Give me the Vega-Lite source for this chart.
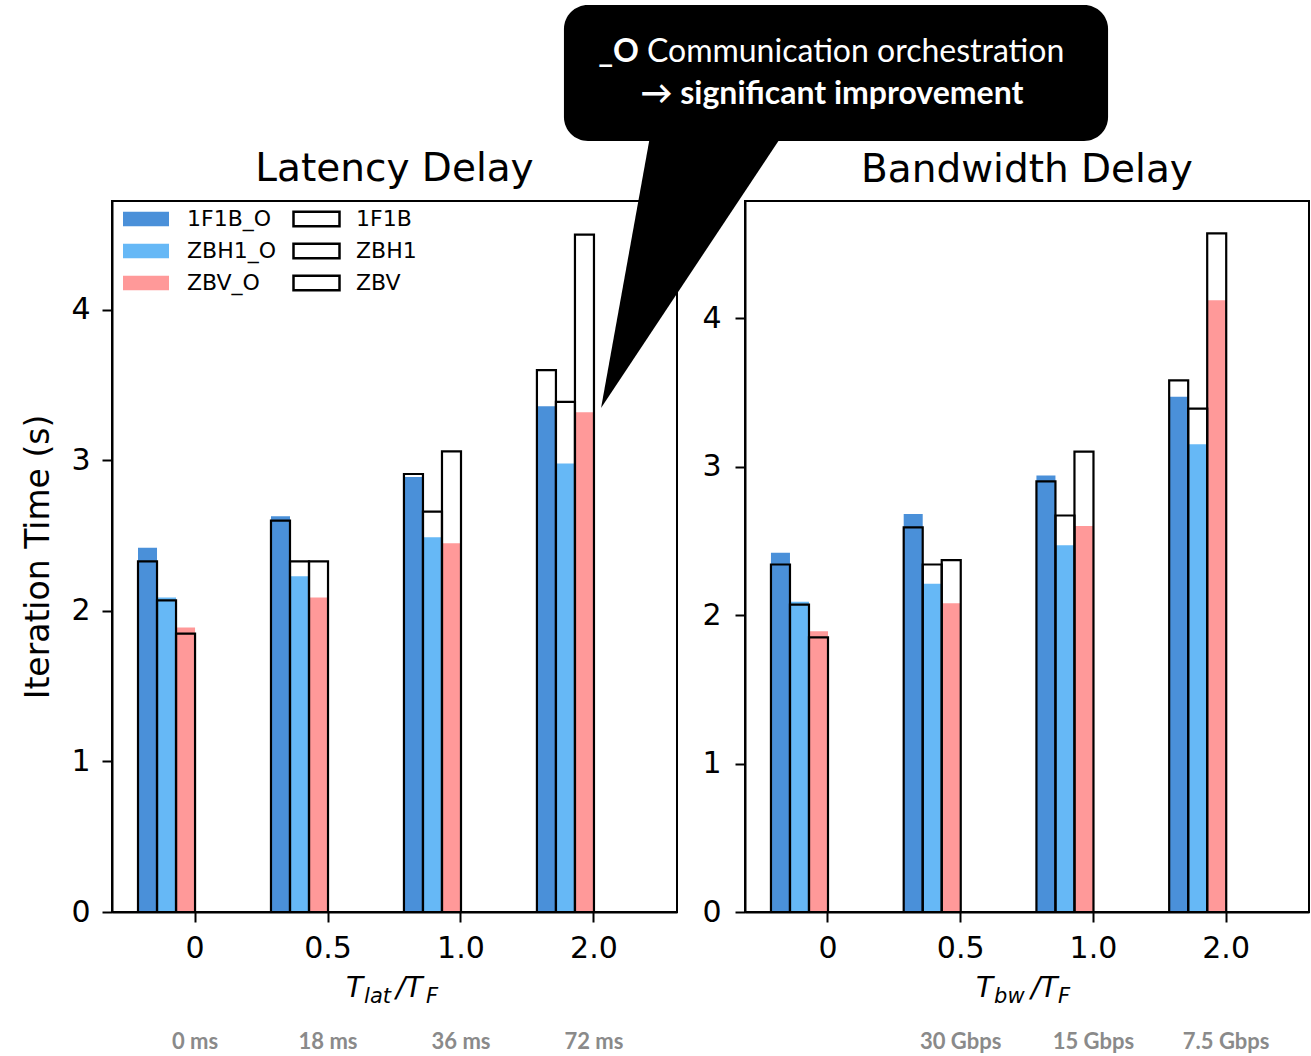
{
  "$schema": "https://vega.github.io/schema/vega-lite/v6.json",
  "background": "white",
  "padding": {"left": 21, "top": 3, "right": 0, "bottom": 0},
  "bounds": "flush",
  "spacing": 68,
  "datasets": {
    "times": [
      {"panel": "latency", "ratio": "0", "method": "1F1B", "variant": "O", "time": 2.42},
      {"panel": "latency", "ratio": "0", "method": "1F1B", "variant": "base", "time": 2.33},
      {"panel": "latency", "ratio": "0", "method": "ZBH1", "variant": "O", "time": 2.09},
      {"panel": "latency", "ratio": "0", "method": "ZBH1", "variant": "base", "time": 2.07},
      {"panel": "latency", "ratio": "0", "method": "ZBV", "variant": "O", "time": 1.89},
      {"panel": "latency", "ratio": "0", "method": "ZBV", "variant": "base", "time": 1.85},
      {"panel": "latency", "ratio": "0.5", "method": "1F1B", "variant": "O", "time": 2.63},
      {"panel": "latency", "ratio": "0.5", "method": "1F1B", "variant": "base", "time": 2.6},
      {"panel": "latency", "ratio": "0.5", "method": "ZBH1", "variant": "O", "time": 2.23},
      {"panel": "latency", "ratio": "0.5", "method": "ZBH1", "variant": "base", "time": 2.33},
      {"panel": "latency", "ratio": "0.5", "method": "ZBV", "variant": "O", "time": 2.09},
      {"panel": "latency", "ratio": "0.5", "method": "ZBV", "variant": "base", "time": 2.33},
      {"panel": "latency", "ratio": "1.0", "method": "1F1B", "variant": "O", "time": 2.89},
      {"panel": "latency", "ratio": "1.0", "method": "1F1B", "variant": "base", "time": 2.91},
      {"panel": "latency", "ratio": "1.0", "method": "ZBH1", "variant": "O", "time": 2.49},
      {"panel": "latency", "ratio": "1.0", "method": "ZBH1", "variant": "base", "time": 2.66},
      {"panel": "latency", "ratio": "1.0", "method": "ZBV", "variant": "O", "time": 2.45},
      {"panel": "latency", "ratio": "1.0", "method": "ZBV", "variant": "base", "time": 3.06},
      {"panel": "latency", "ratio": "2.0", "method": "1F1B", "variant": "O", "time": 3.36},
      {"panel": "latency", "ratio": "2.0", "method": "1F1B", "variant": "base", "time": 3.6},
      {"panel": "latency", "ratio": "2.0", "method": "ZBH1", "variant": "O", "time": 2.98},
      {"panel": "latency", "ratio": "2.0", "method": "ZBH1", "variant": "base", "time": 3.39},
      {"panel": "latency", "ratio": "2.0", "method": "ZBV", "variant": "O", "time": 3.32},
      {"panel": "latency", "ratio": "2.0", "method": "ZBV", "variant": "base", "time": 4.5},
      {"panel": "bandwidth", "ratio": "0", "method": "1F1B", "variant": "O", "time": 2.42},
      {"panel": "bandwidth", "ratio": "0", "method": "1F1B", "variant": "base", "time": 2.34},
      {"panel": "bandwidth", "ratio": "0", "method": "ZBH1", "variant": "O", "time": 2.09},
      {"panel": "bandwidth", "ratio": "0", "method": "ZBH1", "variant": "base", "time": 2.07},
      {"panel": "bandwidth", "ratio": "0", "method": "ZBV", "variant": "O", "time": 1.89},
      {"panel": "bandwidth", "ratio": "0", "method": "ZBV", "variant": "base", "time": 1.85},
      {"panel": "bandwidth", "ratio": "0.5", "method": "1F1B", "variant": "O", "time": 2.68},
      {"panel": "bandwidth", "ratio": "0.5", "method": "1F1B", "variant": "base", "time": 2.59},
      {"panel": "bandwidth", "ratio": "0.5", "method": "ZBH1", "variant": "O", "time": 2.21},
      {"panel": "bandwidth", "ratio": "0.5", "method": "ZBH1", "variant": "base", "time": 2.34},
      {"panel": "bandwidth", "ratio": "0.5", "method": "ZBV", "variant": "O", "time": 2.08},
      {"panel": "bandwidth", "ratio": "0.5", "method": "ZBV", "variant": "base", "time": 2.37},
      {"panel": "bandwidth", "ratio": "1.0", "method": "1F1B", "variant": "O", "time": 2.94},
      {"panel": "bandwidth", "ratio": "1.0", "method": "1F1B", "variant": "base", "time": 2.9},
      {"panel": "bandwidth", "ratio": "1.0", "method": "ZBH1", "variant": "O", "time": 2.47},
      {"panel": "bandwidth", "ratio": "1.0", "method": "ZBH1", "variant": "base", "time": 2.67},
      {"panel": "bandwidth", "ratio": "1.0", "method": "ZBV", "variant": "O", "time": 2.6},
      {"panel": "bandwidth", "ratio": "1.0", "method": "ZBV", "variant": "base", "time": 3.1},
      {"panel": "bandwidth", "ratio": "2.0", "method": "1F1B", "variant": "O", "time": 3.47},
      {"panel": "bandwidth", "ratio": "2.0", "method": "1F1B", "variant": "base", "time": 3.58},
      {"panel": "bandwidth", "ratio": "2.0", "method": "ZBH1", "variant": "O", "time": 3.15},
      {"panel": "bandwidth", "ratio": "2.0", "method": "ZBH1", "variant": "base", "time": 3.39},
      {"panel": "bandwidth", "ratio": "2.0", "method": "ZBV", "variant": "O", "time": 4.12},
      {"panel": "bandwidth", "ratio": "2.0", "method": "ZBV", "variant": "base", "time": 4.57}
    ],
    "sub": [
      {"panel": "latency", "ratio": "0", "label": "0 ms"},
      {"panel": "latency", "ratio": "0.5", "label": "18 ms"},
      {"panel": "latency", "ratio": "1.0", "label": "36 ms"},
      {"panel": "latency", "ratio": "2.0", "label": "72 ms"},
      {"panel": "bandwidth", "ratio": "0.5", "label": "30 Gbps"},
      {"panel": "bandwidth", "ratio": "1.0", "label": "15 Gbps"},
      {"panel": "bandwidth", "ratio": "2.0", "label": "7.5 Gbps"}
    ]
  },
  "config": {
    "font": "DejaVu Sans",
    "view": {"stroke": "black", "strokeWidth": 2},
    "title": {"fontSize": 39, "fontWeight": "normal", "font": "DejaVu Sans", "color": "black"},
    "axis": {
      "labelFontSize": 30, "labelColor": "black", "labelFont": "DejaVu Sans",
      "tickSize": 10, "tickWidth": 2, "tickColor": "black",
      "domainColor": "black", "domainWidth": 2, "grid": false,
      "titleFontSize": 33, "titleFontWeight": "normal", "titleFont": "DejaVu Sans", "titleColor": "black"
    },
    "legend": {
      "orient": "none", "title": null, "labelFontSize": 22, "labelFont": "DejaVu Sans", "labelColor": "black",
      "symbolType": "M-1,-0.32L1,-0.32L1,0.32L-1,0.32Z", "symbolSize": 2116,
      "clipHeight": 28, "rowPadding": 4, "labelOffset": 17, "legendY": 4
    }
  },
  "hconcat": [
    {
      "width": 565,
      "height": 711,
      "title": {"text": "Latency Delay", "offset": -184},
      "resolve": {"scale": {"x": "independent", "y": "independent"}},
      "layer": [
        {
          "layer": [
            {
              "data": {"name": "times"},
              "transform": [{"filter": "datum.panel === 'latency' && datum.variant === 'O'"}],
              "mark": {"type": "bar", "strokeWidth": 0},
              "encoding": {
                "x": {"field": "ratio", "type": "nominal", "sort": ["0", "0.5", "1.0", "2.0"],
                  "scale": {"paddingInner": 0.571, "paddingOuter": 0.41, "align": 0.2385},
                  "axis": {"title": null, "bandPosition": 1, "labelOffset": 28.5, "labelAngle": 0, "labelPadding": 11}},
                "xOffset": {"field": "method", "type": "nominal", "sort": ["1F1B", "ZBH1", "ZBV"], "scale": {"paddingInner": 0, "paddingOuter": 0}},
                "y": {"field": "time", "type": "quantitative", "scale": {"domain": [0, 4.724], "nice": false, "zero": false},
                  "axis": {"values": [0, 1, 2, 3, 4], "format": "d", "title": "Iteration Time (s)", "labelPadding": 12, "titlePadding": 15}},
                "color": {"field": "method", "type": "nominal",
                  "scale": {"domain": ["1F1B", "ZBH1", "ZBV"], "range": ["#4a90d9", "#66b8f6", "#ff9999"]},
                  "legend": {"legendX": 10, "labelExpr": "datum.label + '_O'"}}
              }
            },
            {
              "data": {"name": "times"},
              "transform": [{"filter": "datum.panel === 'latency' && datum.variant === 'base'"}],
              "mark": {"type": "bar", "fill": "transparent", "strokeWidth": 2.2},
              "encoding": {
                "x": {"field": "ratio", "type": "nominal", "sort": ["0", "0.5", "1.0", "2.0"]},
                "xOffset": {"field": "method", "type": "nominal", "sort": ["1F1B", "ZBH1", "ZBV"]},
                "y": {"field": "time", "type": "quantitative"},
                "stroke": {"field": "method", "type": "nominal", "scale": {"range": ["black", "black", "black"]},
                  "legend": {"legendX": 180, "labelOffset": 15, "symbolFillColor": "white", "symbolStrokeWidth": 2.5, "symbolStrokeColor": "black"}}
              }
            },
            {
              "data": {"name": "sub"},
              "transform": [{"filter": "datum.panel === 'latency'"}],
              "mark": {"type": "text", "font": "Lato", "fontWeight": "bold", "fontSize": 22, "color": "#8a8a8a", "baseline": "middle"},
              "encoding": {
                "x": {"field": "ratio", "type": "nominal", "sort": ["0", "0.5", "1.0", "2.0"], "bandPosition": 1},
                "y": {"datum": -0.864, "type": "quantitative"},
                "text": {"field": "label"}
              }
            }
          ]
        },
        {
          "data": {"values": [{}]},
          "layer": [
            {
              "mark": {"type": "rect", "color": "black", "cornerRadius": 24},
              "encoding": {
                "x": {"datum": 2.774, "type": "quantitative", "scale": {"domain": [-0.624, 3.624], "nice": false, "zero": false}, "axis": null},
                "x2": {"datum": 6.865},
                "y": {"datum": 6.027, "type": "quantitative", "scale": {"domain": [0, 4.724], "nice": false, "zero": false}, "axis": null},
                "y2": {"datum": 5.123}
              }
            },
            {
              "mark": {"type": "point", "shape": "M0,0L5.1,-28.3L18.8,-28.3Z", "size": 400, "filled": true, "color": "black", "opacity": 1, "strokeWidth": 0},
              "encoding": {
                "x": {"datum": 3.053, "type": "quantitative"},
                "y": {"datum": 3.349, "type": "quantitative"}
              }
            },
            {
              "mark": {"type": "text", "text": "_O", "font": "Lato", "fontWeight": "bold", "fontSize": 32, "color": "white", "align": "right", "baseline": "middle"},
              "encoding": {"x": {"datum": 3.338, "type": "quantitative"}, "y": {"datum": 5.714, "type": "quantitative"}}
            },
            {
              "mark": {"type": "text", "text": "Communication orchestration", "font": "Lato", "fontSize": 32, "color": "white", "align": "left", "baseline": "middle"},
              "encoding": {"x": {"datum": 3.398, "type": "quantitative"}, "y": {"datum": 5.714, "type": "quantitative"}}
            },
            {
              "mark": {"type": "text", "text": "→ significant improvement", "font": "Lato", "fontWeight": "bold", "fontSize": 32, "color": "white", "align": "center", "baseline": "middle"},
              "encoding": {"x": {"datum": 4.789, "type": "quantitative"}, "y": {"datum": 5.435, "type": "quantitative"}}
            },
            {
              "mark": {"type": "text", "text": "T", "fontStyle": "italic", "fontSize": 28, "color": "black", "align": "left", "baseline": "alphabetic"},
              "encoding": {"x": {"datum": 1.135, "type": "quantitative"}, "y": {"datum": -0.565, "type": "quantitative"}}
            },
            {
              "mark": {"type": "text", "text": "lat", "fontStyle": "italic", "fontSize": 21, "color": "black", "align": "left", "baseline": "alphabetic"},
              "encoding": {"x": {"datum": 1.271, "type": "quantitative"}, "y": {"datum": -0.605, "type": "quantitative"}}
            },
            {
              "mark": {"type": "text", "text": "/T", "fontStyle": "italic", "fontSize": 28, "color": "black", "align": "left", "baseline": "alphabetic"},
              "encoding": {"x": {"datum": 1.511, "type": "quantitative"}, "y": {"datum": -0.565, "type": "quantitative"}}
            },
            {
              "mark": {"type": "text", "text": "F", "fontStyle": "italic", "fontSize": 21, "color": "black", "align": "left", "baseline": "alphabetic"},
              "encoding": {"x": {"datum": 1.737, "type": "quantitative"}, "y": {"datum": -0.605, "type": "quantitative"}}
            }
          ]
        }
      ]
    },
    {
      "width": 564,
      "height": 711,
      "title": {"text": "Bandwidth Delay", "offset": 11},
      "resolve": {"scale": {"x": "independent", "y": "independent"}},
      "layer": [
        {
          "layer": [
            {
              "data": {"name": "times"},
              "transform": [{"filter": "datum.panel === 'bandwidth' && datum.variant === 'O'"}],
              "mark": {"type": "bar", "strokeWidth": 0},
              "encoding": {
                "x": {"field": "ratio", "type": "nominal", "sort": ["0", "0.5", "1.0", "2.0"],
                  "scale": {"paddingInner": 0.571, "paddingOuter": 0.41, "align": 0.2385},
                  "axis": {"title": null, "bandPosition": 1, "labelOffset": 28.5, "labelAngle": 0, "labelPadding": 11}},
                "xOffset": {"field": "method", "type": "nominal", "sort": ["1F1B", "ZBH1", "ZBV"], "scale": {"paddingInner": 0, "paddingOuter": 0}},
                "y": {"field": "time", "type": "quantitative", "scale": {"domain": [0, 4.788], "nice": false, "zero": false},
                  "axis": {"values": [0, 1, 2, 3, 4], "format": "d", "title": null, "labelPadding": 14}},
                "color": {"field": "method", "type": "nominal",
                  "scale": {"domain": ["1F1B", "ZBH1", "ZBV"], "range": ["#4a90d9", "#66b8f6", "#ff9999"]},
                  "legend": null}
              }
            },
            {
              "data": {"name": "times"},
              "transform": [{"filter": "datum.panel === 'bandwidth' && datum.variant === 'base'"}],
              "mark": {"type": "bar", "fill": "transparent", "strokeWidth": 2.2},
              "encoding": {
                "x": {"field": "ratio", "type": "nominal", "sort": ["0", "0.5", "1.0", "2.0"]},
                "xOffset": {"field": "method", "type": "nominal", "sort": ["1F1B", "ZBH1", "ZBV"]},
                "y": {"field": "time", "type": "quantitative"},
                "stroke": {"field": "method", "type": "nominal", "scale": {"range": ["black", "black", "black"]}, "legend": null}
              }
            },
            {
              "data": {"name": "sub"},
              "transform": [{"filter": "datum.panel === 'bandwidth'"}],
              "mark": {"type": "text", "font": "Lato", "fontWeight": "bold", "fontSize": 22, "color": "#8a8a8a", "baseline": "middle"},
              "encoding": {
                "x": {"field": "ratio", "type": "nominal", "sort": ["0", "0.5", "1.0", "2.0"], "bandPosition": 1},
                "y": {"datum": -0.875, "type": "quantitative"},
                "text": {"field": "label"}
              }
            }
          ]
        },
        {
          "data": {"values": [{}]},
          "layer": [
            {
              "mark": {"type": "text", "text": "T", "fontStyle": "italic", "fontSize": 28, "color": "black", "align": "left", "baseline": "alphabetic"},
              "encoding": {
                "x": {"datum": 1.116, "type": "quantitative", "scale": {"domain": [-0.624, 3.624], "nice": false, "zero": false}, "axis": null},
                "y": {"datum": -0.572, "type": "quantitative", "scale": {"domain": [0, 4.788], "nice": false, "zero": false}, "axis": null}
              }
            },
            {
              "mark": {"type": "text", "text": "bw", "fontStyle": "italic", "fontSize": 21, "color": "black", "align": "left", "baseline": "alphabetic"},
              "encoding": {"x": {"datum": 1.252, "type": "quantitative"}, "y": {"datum": -0.613, "type": "quantitative"}}
            },
            {
              "mark": {"type": "text", "text": "/T", "fontStyle": "italic", "fontSize": 28, "color": "black", "align": "left", "baseline": "alphabetic"},
              "encoding": {"x": {"datum": 1.53, "type": "quantitative"}, "y": {"datum": -0.572, "type": "quantitative"}}
            },
            {
              "mark": {"type": "text", "text": "F", "fontStyle": "italic", "fontSize": 21, "color": "black", "align": "left", "baseline": "alphabetic"},
              "encoding": {"x": {"datum": 1.733, "type": "quantitative"}, "y": {"datum": -0.613, "type": "quantitative"}}
            }
          ]
        }
      ]
    }
  ]
}
